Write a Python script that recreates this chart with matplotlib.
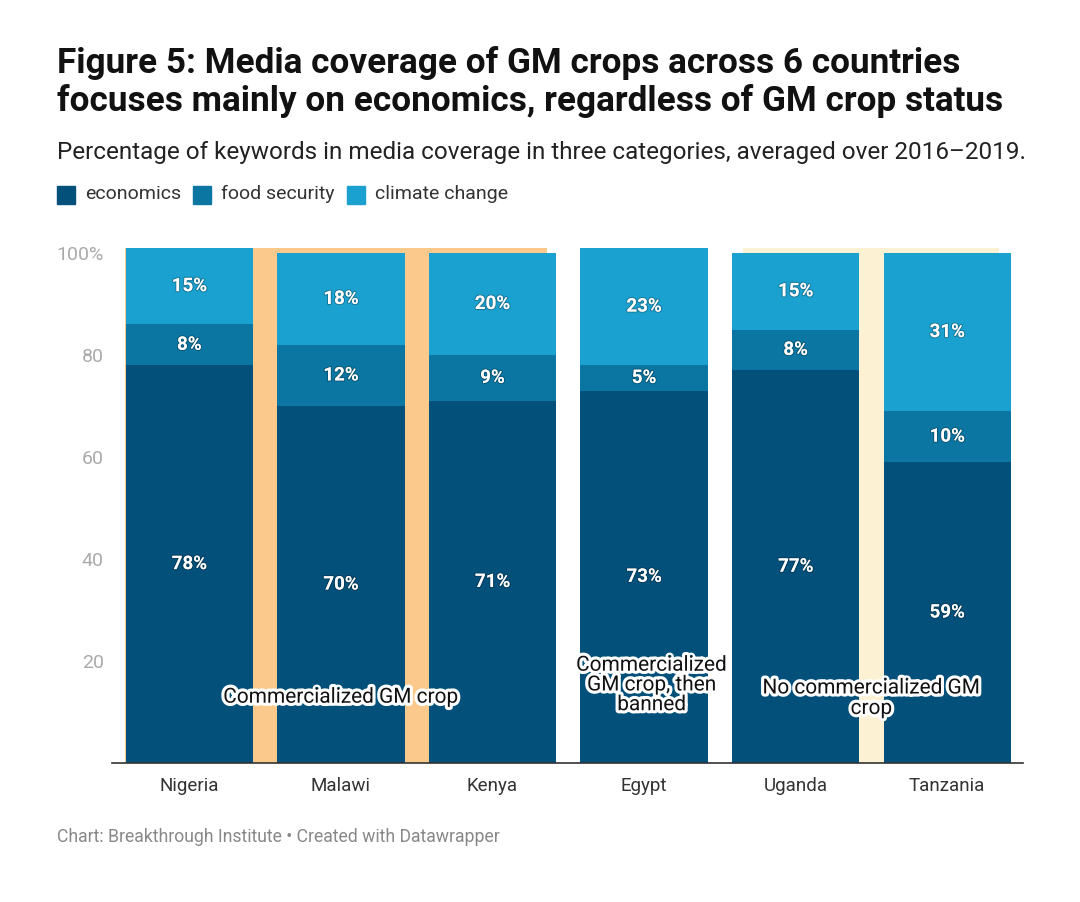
import numpy as np
import matplotlib.pyplot as plt
import matplotlib.patheffects as pe
from matplotlib.patches import Rectangle

plt.rcParams['font.family'] = ['Roboto', 'DejaVu Sans']

countries = ['Nigeria', 'Malawi', 'Kenya', 'Egypt', 'Uganda', 'Tanzania']
economics = [78, 70, 71, 73, 77, 59]
food_security = [8, 12, 9, 5, 8, 10]
climate_change = [15, 18, 20, 23, 15, 31]
series_names = ['economics', 'food security', 'climate change']
colors = ['#03507b', '#0a76a1', '#1ba1cf']

yticks = [20, 40, 60, 80, 100]
ytick_labels = ['20', '40', '60', '80', '100%']

fig = plt.figure(figsize=(10.8, 9.02), dpi=100)
ax = fig.add_axes([0.1037, 0.1541, 0.8435, 0.5767])

x = np.arange(len(countries))
w = 0.84

# status bands behind the bars
ax.add_patch(Rectangle((-0.425, 0), 2.785, 101, color='#fbc98b', zorder=0, lw=0))
ax.add_patch(Rectangle((3.655, 0), 1.69, 101, color='#fdf1d3', zorder=0, lw=0))

data = [economics, food_security, climate_change]
bottom = np.zeros(len(countries))
for vals, col, name in zip(data, colors, series_names):
    vals = np.array(vals)
    ax.bar(x, vals, w, bottom=bottom, color=col, zorder=2, label=name)
    for xi, b, v in zip(x, bottom, vals):
        ax.text(xi, b + v / 2, f'{v}%', ha='center', va='center', color='white',
                fontsize=13.5, fontweight='bold', zorder=4,
                path_effects=[pe.withStroke(linewidth=1.5, foreground='#00000040')])
    bottom += vals

halo = [pe.withStroke(linewidth=4.5, foreground='white')]
ax.text(1.0, 12.9, 'Commercialized GM crop', ha='center', va='center', fontsize=15,
        color='#111111', zorder=5, path_effects=halo)
ax.text(3.05, 15.3, 'Commercialized\nGM crop, then\nbanned', ha='center', va='center',
        fontsize=15, color='#111111', zorder=5, linespacing=1.05, path_effects=halo)
ax.text(4.5, 12.7, 'No commercialized GM\ncrop', ha='center', va='center', fontsize=15,
        color='#111111', zorder=5, linespacing=1.1, path_effects=halo)

ax.set_xlim(-0.51, 5.5)
ax.set_ylim(0, 102)
ax.set_xticks(x)
ax.set_xticklabels(countries, fontsize=13.5, color='#333333')
ax.set_yticks(yticks)
ax.set_yticklabels(ytick_labels, fontsize=14, color='#aaaaaa')
ax.tick_params(axis='both', length=0)
ax.tick_params(axis='x', pad=10)
ax.tick_params(axis='y', pad=6)
for s in ['top', 'right', 'left']:
    ax.spines[s].set_visible(False)
ax.spines['bottom'].set_color('#333333')
ax.spines['bottom'].set_linewidth(1.2)
ax.spines['bottom'].set_zorder(6)

fig.text(0.053, 1 - 82 / 902, 'Figure 5: Media coverage of GM crops across 6 countries\n'
         'focuses mainly on economics, regardless of GM crop status',
         fontsize=25.3, fontweight='bold', color='#111111', va='center', linespacing=1.14)
fig.text(0.053, 1 - 153 / 902, 'Percentage of keywords in media coverage in three categories, averaged over 2016\u20132019.',
         fontsize=17.5, color='#222222', va='center')

# legend
lx = 57
for name, col in zip(series_names, colors):
    fig.patches.append(Rectangle((lx / 1080, 1 - 204 / 902), 18 / 1080, 18 / 902,
                                 transform=fig.transFigure, color=col, figure=fig))
    t = fig.text((lx + 28) / 1080, 1 - 194 / 902, name, fontsize=14, color='#333333', va='center')
    fig.canvas.draw()
    bb = t.get_window_extent()
    lx = bb.x1 + 12

fig.text(0.053, 1 - 837 / 902, 'Chart: Breakthrough Institute \u2022 Created with Datawrapper',
         fontsize=12.7, color='#888888', va='center')

fig.savefig('out.png', dpi=100, facecolor='white')
